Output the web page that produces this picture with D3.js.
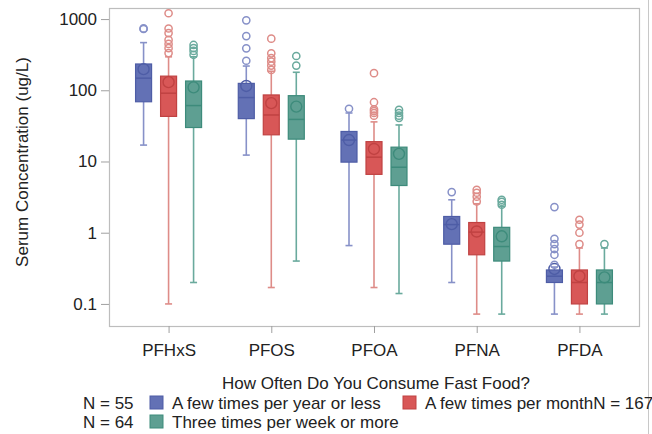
<!doctype html>
<html lang="en">
<head>
    <meta charset="utf-8">
    <title>Serum concentration by fast food</title>
    <script src="https://d3js.org/d3.v7.min.js"></script>
    <style type="text/css">
        body { margin: 0; background: #fff; }
        text { font-family: "Liberation Sans", Arial, sans-serif; fill: #222; }
    </style>
</head>

<body>
</body>

<script type="text/javascript">

    var compounds = ["PFHxS", "PFOS", "PFOA", "PFNA", "PFDA"];
    var groups    = ["A few times per year or less", "A few times per month", "Three times per week or more"];
    var groupN    = [55, 167, 64];
    var yTicks    = [0.1, 1, 10, 100, 1000];

    // per compound: [whisker low, q1, median, q3, whisker high]
    var yearlyBox  = [[17, 69, 148, 234, 467], [12.3, 40, 79, 125, 219], [0.66, 9.8, 20, 26.4, 48], [0.2, 0.69, 1.3, 1.69, 2.9], [0.072, 0.2, 0.245, 0.3, 0.33]];
    var monthlyBox = [[0.1, 43, 91, 158, 295], [0.17, 23.7, 45, 86, 185], [0.17, 6.6, 11.5, 19, 36], [0.072, 0.49, 1.02, 1.39, 2.55], [0.072, 0.1, 0.2, 0.3, 0.61]];
    var weeklyBox  = [[0.2, 30, 61, 135, 295], [0.4, 20.6, 39, 84, 179], [0.14, 4.6, 8.3, 15.9, 32.6], [0.072, 0.4, 0.64, 1.19, 2.34], [0.072, 0.1, 0.2, 0.3, 0.61]];

    var yearlyMean  = [198, 115, 20, 1.32, 0.31];
    var monthlyMean = [130, 66, 15, 1.04, 0.245];
    var weeklyMean  = [110, 59, 12.8, 0.89, 0.236];

    var yearlyOut  = [[725, 740], [960, 577, 388, 260], [55], [3.72], [2.29, 0.82, 0.69, 0.59, 0.49, 0.355]];
    var monthlyOut = [[1206, 737, 635, 510, 447, 390, 333], [530, 330, 283, 252, 222, 193], [174, 68, 54, 51, 48, 44], [4.0, 3.64, 3.2, 2.75], [1.52, 1.3, 1.0, 0.69]];
    var weeklyOut  = [[433, 392, 357, 315], [303, 222], [53, 48, 44, 41], [2.9, 2.72, 2.47], [0.69]];

    var boxes    = [yearlyBox, monthlyBox, weeklyBox];
    var means    = [yearlyMean, monthlyMean, weeklyMean];
    var outliers = [yearlyOut, monthlyOut, weeklyOut];

    var fills    = ["#6371b5", "#d85757", "#5e9f92"];
    var strokes  = ["#4e5da6", "#c04242", "#3d8b7b"];
    var whiskers = ["#8791c8", "#de8c88", "#6aaa9d"];

    var width  = 652;
    var height = 434;
    var plotLeft = 109, plotRight = 639, plotTop = 8, plotBottom = 326;

    var svg = d3.select("body")
                .append("svg")
                .attr("width", width)
                .attr("height", height);

    var xScale = d3.scalePoint()
                 .domain(compounds)
                 .range([plotLeft, plotRight])
                 .padding(0.58);

    var offset = d3.scalePoint()
                 .domain(groups)
                 .range([-25, 25]);

    var yScale = d3.scaleLog()
                 .domain([0.049, 1430])
                 .range([plotBottom, plotTop]);

    // right border line of the image panel
    svg.append("line")
       .attr("x1", 648.5).attr("x2", 648.5)
       .attr("y1", 0).attr("y2", height)
       .attr("stroke", "#c8c8c8");

    // frame
    svg.append("rect")
       .attr("x", plotLeft + 0.5).attr("y", plotTop + 0.5)
       .attr("width", plotRight - plotLeft).attr("height", plotBottom - plotTop)
       .attr("fill", "none")
       .attr("stroke", "#bdbdbd")
       .attr("stroke-width", 1.2);

    var yAxis = svg.append("g")
       .attr("transform", "translate(" + plotLeft + ",0)")
       .call(d3.axisLeft(yScale).tickValues(yTicks).tickFormat(d3.format("~g")).tickSize(8).tickPadding(4));
    yAxis.select(".domain").remove();
    yAxis.selectAll("line").attr("stroke", "#a0a0a0");
    yAxis.selectAll("text").style("font-size", "17px").attr("fill", "#222");

    var xAxis = svg.append("g")
       .attr("transform", "translate(0," + plotBottom + ")")
       .call(d3.axisBottom(xScale).tickSize(7).tickPadding(11));
    xAxis.select(".domain").remove();
    xAxis.selectAll("line").attr("stroke", "#a0a0a0");
    xAxis.selectAll("text").style("font-size", "17px").attr("fill", "#222");

    svg.append("text")
       .attr("transform", "translate(28," + ((plotTop + plotBottom) / 2 - 5) + ") rotate(-90)")
       .attr("text-anchor", "middle")
       .style("font-size", "17px")
       .text("Serum Concentration (ug/L)");

    // boxes
    groups.forEach(function (g, gi) {
        var layer = svg.append("g");
        var bw = 16, cap = 7;
        var cx = function (d, i) { return xScale(compounds[i]) + offset(g); };

        var items = layer.selectAll("g.box").data(boxes[gi]).enter().append("g").attr("class", "box");

        items.append("line")
             .attr("x1", cx).attr("x2", cx)
             .attr("y1", d => yScale(d[0])).attr("y2", d => yScale(d[1]))
             .attr("stroke", whiskers[gi]).attr("stroke-width", 1.6);
        items.append("line")
             .attr("x1", cx).attr("x2", cx)
             .attr("y1", d => yScale(d[3])).attr("y2", d => yScale(d[4]))
             .attr("stroke", whiskers[gi]).attr("stroke-width", 1.6);
        items.append("line")
             .attr("x1", (d, i) => cx(d, i) - cap / 2).attr("x2", (d, i) => cx(d, i) + cap / 2)
             .attr("y1", d => yScale(d[0])).attr("y2", d => yScale(d[0]))
             .attr("stroke", whiskers[gi]).attr("stroke-width", 1.6);
        items.append("line")
             .attr("x1", (d, i) => cx(d, i) - cap / 2).attr("x2", (d, i) => cx(d, i) + cap / 2)
             .attr("y1", d => yScale(d[4])).attr("y2", d => yScale(d[4]))
             .attr("stroke", whiskers[gi]).attr("stroke-width", 1.6);

        items.append("rect")
             .attr("x", (d, i) => cx(d, i) - bw / 2)
             .attr("y", d => yScale(d[3]))
             .attr("width", bw)
             .attr("height", d => yScale(d[1]) - yScale(d[3]))
             .attr("fill", fills[gi])
             .attr("stroke", strokes[gi]).attr("stroke-width", 1.2);

        items.append("line")
             .attr("x1", (d, i) => cx(d, i) - bw / 2).attr("x2", (d, i) => cx(d, i) + bw / 2)
             .attr("y1", d => yScale(d[2])).attr("y2", d => yScale(d[2]))
             .attr("stroke", strokes[gi]).attr("stroke-width", 1.5);

        layer.selectAll("circle.mean").data(means[gi]).enter().append("circle")
             .attr("class", "mean")
             .attr("cx", cx)
             .attr("cy", d => yScale(d))
             .attr("r", 5.5)
             .attr("fill", "none")
             .attr("stroke", strokes[gi]).attr("stroke-width", 1.4);

        outliers[gi].forEach(function (vals, ci) {
            layer.selectAll(null).data(vals).enter().append("circle")
                 .attr("cx", xScale(compounds[ci]) + offset(g))
                 .attr("cy", d => yScale(d))
                 .attr("r", 3.6)
                 .attr("fill", "none")
                 .attr("stroke", whiskers[gi]).attr("stroke-width", 1.5);
        });
    });

    // legend
    svg.append("text")
       .attr("x", (plotLeft + plotRight) / 2 + 2).attr("y", 389)
       .attr("text-anchor", "middle")
       .style("font-size", "17px")
       .text("How Often Do You Consume Fast Food?");

    var legendPos = [[150, 409], [403, 409], [150, 428]];
    groups.forEach(function (g, gi) {
        var p = legendPos[gi];
        svg.append("rect")
           .attr("x", p[0]).attr("y", p[1] - 13)
           .attr("width", 13).attr("height", 13)
           .attr("fill", fills[gi]).attr("stroke", strokes[gi]);
        svg.append("text")
           .attr("x", p[0] + 22).attr("y", p[1])
           .style("font-size", "17px")
           .text(gi == 1 ? g + "N = " + groupN[gi] : g);
        if (gi != 1) {
            svg.append("text")
               .attr("x", 83).attr("y", p[1])
               .style("font-size", "17px")
               .text("N = " + groupN[gi]);
        }
    });

</script>

</html>
